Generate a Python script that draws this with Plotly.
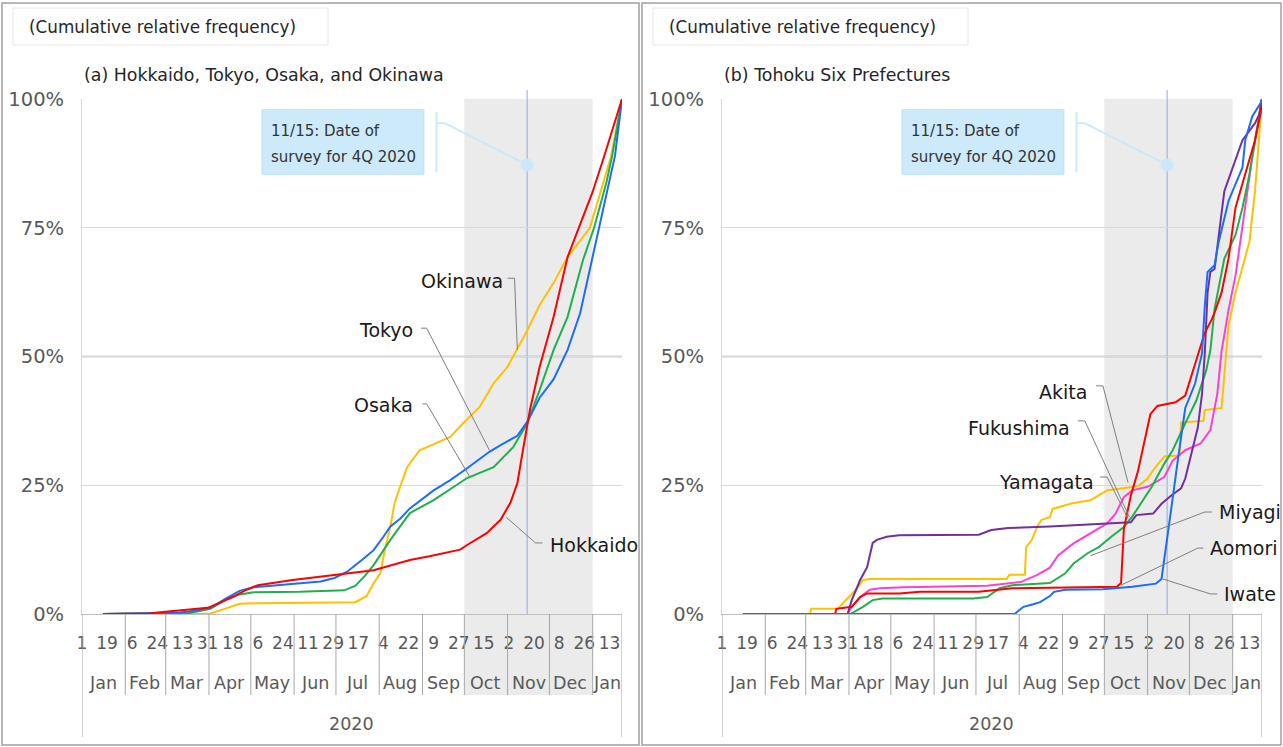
import plotly.graph_objects as go

W, H = 1283, 747
FONT = "DejaVu Sans"

# ---------------- axis labels ----------------
tick_dates = ["2020-01-01", "2020-01-19", "2020-02-06", "2020-02-24", "2020-03-13", "2020-03-31",
              "2020-04-18", "2020-05-06", "2020-05-24", "2020-06-11", "2020-06-29", "2020-07-17",
              "2020-08-04", "2020-08-22", "2020-09-09", "2020-09-27", "2020-10-15", "2020-11-02",
              "2020-11-20", "2020-12-08", "2020-12-26", "2021-01-13"]
tick_days = ["1", "19", "6", "24", "13", "31", "18", "6", "24", "11", "29", "17",
             "4", "22", "9", "27", "15", "2", "20", "8", "26", "13"]
month_starts = ["2020-01-01", "2020-02-01", "2020-03-01", "2020-04-01", "2020-05-01", "2020-06-01",
                "2020-07-01", "2020-08-01", "2020-09-01", "2020-10-01", "2020-11-01", "2020-12-01",
                "2021-01-01"]
month_mids = ["2020-01-16", "2020-02-15", "2020-03-16", "2020-04-16", "2020-05-16", "2020-06-16",
              "2020-07-16", "2020-08-16", "2020-09-16", "2020-10-16", "2020-11-16", "2020-12-16",
              "2021-01-11"]
month_names = ["Jan", "Feb", "Mar", "Apr", "May", "Jun", "Jul", "Aug", "Sep", "Oct", "Nov", "Dec", "Jan"]
axis_start, axis_end = "2020-01-01", "2021-01-22"
year_label, year_pos = "2020", "2020-07-12"
y_ticks = [0, 25, 50, 75, 100]
y_ticktext = ["0%", "25%", "50%", "75%", "100%"]

# ---------------- (a) cumulative relative frequency, % ----------------
hokkaido_dates = ["2020-01-16", "2020-02-18", "2020-02-28", "2020-03-18", "2020-03-31", "2020-04-09",
                  "2020-04-18", "2020-04-27", "2020-05-06", "2020-05-31", "2020-06-29", "2020-07-28",
                  "2020-08-23", "2020-09-06", "2020-09-28", "2020-10-03", "2020-10-17", "2020-10-27",
                  "2020-11-03", "2020-11-08", "2020-11-12", "2020-11-17", "2020-11-24", "2020-12-04",
                  "2020-12-14", "2020-12-22", "2021-01-01", "2021-01-09", "2021-01-22"]
hokkaido_vals = [0, 0.1, 0.4, 0.9, 1.2, 2.2, 3.3, 4.6, 5.6, 6.6, 7.6, 8.5, 10.5, 11.2, 12.5, 13.4, 15.7,
                 18.3, 21.6, 25.4, 31.8, 39.6, 48, 57.7, 69.3, 75, 82, 88.7, 100]

tokyo_dates = ["2020-01-16", "2020-03-11", "2020-03-18", "2020-04-02", "2020-04-13", "2020-04-23",
               "2020-05-03", "2020-05-29", "2020-06-20", "2020-06-30", "2020-07-09", "2020-07-22",
               "2020-07-28", "2020-08-04", "2020-08-09", "2020-08-16", "2020-08-23", "2020-09-09",
               "2020-09-21", "2020-10-03", "2020-10-19", "2020-10-27", "2020-11-08", "2020-11-15",
               "2020-11-24", "2020-12-04", "2020-12-14", "2020-12-23", "2020-12-30", "2021-01-06",
               "2021-01-13", "2021-01-17", "2021-01-22"]
tokyo_vals = [0, 0.3, 0.5, 1.2, 3, 4.5, 5.2, 5.8, 6.3, 7.0, 8.2, 11, 12.4, 15, 17, 18.5, 20.5, 24, 26,
              28.3, 31.5, 32.8, 34.6, 37.3, 42, 45.6, 51.3, 58.4, 67, 75, 84, 89, 100]

osaka_dates = ["2020-01-16", "2020-03-18", "2020-04-02", "2020-04-13", "2020-04-23", "2020-05-03",
               "2020-06-05", "2020-07-07", "2020-07-15", "2020-07-22", "2020-07-28", "2020-08-04",
               "2020-08-09", "2020-08-16", "2020-08-23", "2020-09-09", "2020-10-03", "2020-10-22",
               "2020-11-05", "2020-11-15", "2020-11-24", "2020-12-04", "2020-12-14", "2020-12-25",
               "2021-01-02", "2021-01-11", "2021-01-15", "2021-01-22"]
osaka_vals = [0, 0.2, 1, 2.8, 3.8, 4.2, 4.3, 4.6, 5.5, 7.5, 9.5, 12.4, 14.4, 17, 19.6, 22.1, 26.4, 28.5,
              32.4, 37, 43.5, 51.3, 57.7, 68.7, 75, 84, 89, 100]

okinawa_dates = ["2020-01-16", "2020-04-02", "2020-04-10", "2020-04-23", "2020-05-08", "2020-07-15",
                 "2020-07-23", "2020-07-28", "2020-08-02", "2020-08-05", "2020-08-09", "2020-08-12",
                 "2020-08-16", "2020-08-21", "2020-08-30", "2020-09-21", "2020-09-30", "2020-10-12",
                 "2020-10-22", "2020-11-01", "2020-11-15", "2020-11-24", "2020-12-04", "2020-12-14",
                 "2020-12-30", "2021-01-14", "2021-01-22"]
okinawa_vals = [0, 0.1, 0.8, 2.0, 2.1, 2.3, 3.5, 6, 8, 12.5, 17, 21.5, 24.7, 28.5, 31.8, 34.4, 37, 40.2,
                44.8, 48, 55, 60, 64.3, 69.3, 75, 88.7, 100]

# ---------------- (b) cumulative relative frequency, % ----------------
aomori_dates = ["2020-01-16", "2020-03-22", "2020-03-23", "2020-04-03", "2020-04-09", "2020-04-14",
                "2020-05-07", "2020-05-22", "2020-07-03", "2020-07-16", "2020-07-27", "2020-10-10",
                "2020-10-13", "2020-10-15", "2020-10-20", "2020-10-25", "2020-10-30", "2020-11-03",
                "2020-11-08", "2020-11-21", "2020-11-28", "2020-12-02", "2020-12-07", "2020-12-12",
                "2020-12-17", "2020-12-19", "2020-12-24", "2020-12-29", "2021-01-03", "2021-01-10",
                "2021-01-17", "2021-01-21", "2021-01-22"]
aomori_vals = [0, 0, 1.0, 1.4, 3.3, 4.0, 4.0, 4.3, 4.3, 4.6, 5.0, 5.3, 6, 16.5, 23, 27.6, 33.6, 38.8,
               40.4, 41.1, 42.4, 46, 50.6, 54.6, 57.2, 58.5, 62.4, 69, 78.9, 85.4, 92, 97.2, 100]

iwate_dates = ["2020-01-16", "2020-07-29", "2020-07-30", "2020-08-04", "2020-08-11", "2020-08-16",
               "2020-08-23", "2020-08-26", "2020-09-03", "2020-09-30", "2020-10-21", "2020-11-07",
               "2020-11-11", "2020-11-13", "2020-11-18", "2020-11-23", "2020-11-28", "2020-12-05",
               "2020-12-10", "2020-12-12", "2020-12-14", "2020-12-19", "2020-12-22", "2020-12-29",
               "2021-01-03", "2021-01-08", "2021-01-10", "2021-01-15", "2021-01-21", "2021-01-22"]
iwate_vals = [0, 0, 0.3, 1.4, 1.9, 2.3, 3.5, 4.3, 4.7, 4.8, 5.3, 5.9, 6.8, 11, 20.5, 30.5, 40, 44.7,
              50.6, 59.8, 66.4, 67.7, 72.3, 80.2, 83.5, 86.7, 92, 96.6, 99.2, 100]

miyagi_dates = ["2020-01-16", "2020-04-02", "2020-04-11", "2020-04-18", "2020-04-25", "2020-06-29",
                "2020-07-09", "2020-07-18", "2020-07-27", "2020-08-23", "2020-09-03", "2020-09-09",
                "2020-09-19", "2020-09-27", "2020-10-06", "2020-10-15", "2020-10-21", "2020-10-30",
                "2020-11-04", "2020-11-13", "2020-11-19", "2020-11-28", "2020-12-06", "2020-12-13",
                "2020-12-16", "2020-12-19", "2020-12-26", "2021-01-03", "2021-01-08", "2021-01-13",
                "2021-01-17", "2021-01-20", "2021-01-22"]
miyagi_vals = [0, 0, 1.4, 2.7, 3.0, 3.0, 3.3, 5.0, 5.6, 6.0, 7.9, 9.8, 11.8, 13, 15, 16.9, 18.9, 22.7,
               24.7, 29.2, 31.8, 37, 41.5, 47.3, 51.2, 59.2, 69, 73.6, 78.9, 85.4, 92, 97, 100]

akita_dates = ["2020-01-16", "2020-03-04", "2020-03-05", "2020-03-24", "2020-03-29", "2020-04-07",
               "2020-04-11", "2020-04-16", "2020-07-23", "2020-07-25", "2020-08-05", "2020-08-06",
               "2020-08-10", "2020-08-14", "2020-08-17", "2020-08-23", "2020-08-25", "2020-09-08",
               "2020-09-21", "2020-10-03", "2020-10-25", "2020-11-01", "2020-11-06", "2020-11-13",
               "2020-11-24", "2020-11-25", "2020-12-11", "2020-12-12", "2020-12-24", "2020-12-26",
               "2020-12-29", "2021-01-03", "2021-01-13", "2021-01-17", "2021-01-20", "2021-01-22"]
akita_vals = [0, 0, 1.0, 1.0, 2.5, 5, 6.6, 6.8, 6.8, 7.6, 7.6, 13, 14.4, 17, 18.3, 18.8, 20.4, 21.5,
              22.1, 24, 24.8, 26.3, 28.3, 30.6, 30.8, 37.2, 37.5, 39.6, 40, 46, 56, 62.4, 72.3, 82.1,
              92, 100]

yamagata_dates = ["2020-01-16", "2020-03-31", "2020-04-03", "2020-04-09", "2020-04-14", "2020-04-18",
                  "2020-04-21", "2020-04-28", "2020-05-07", "2020-07-03", "2020-07-12", "2020-07-24",
                  "2020-08-23", "2020-10-20", "2020-10-24", "2020-11-05", "2020-11-11", "2020-11-18",
                  "2020-11-25", "2020-11-28", "2020-12-01", "2020-12-07", "2020-12-10", "2020-12-12",
                  "2020-12-14", "2020-12-16", "2020-12-19", "2020-12-26", "2021-01-08", "2021-01-17",
                  "2021-01-20", "2021-01-22"]
yamagata_vals = [0, 0, 2.7, 6.6, 9.1, 13.8, 14.4, 15, 15.3, 15.4, 16.3, 16.7, 17, 17.8, 19.2, 19.5,
                 21.4, 23, 24.4, 26.3, 29.6, 36.2, 42.7, 50.6, 62.4, 66.4, 67, 82.1, 92, 95.3, 97, 100]

fukushima_dates = ["2020-01-16", "2020-03-31", "2020-04-03", "2020-04-09", "2020-04-16", "2020-04-23",
                   "2020-05-10", "2020-07-09", "2020-08-02", "2020-08-14", "2020-08-23", "2020-08-29",
                   "2020-09-09", "2020-09-21", "2020-10-03", "2020-10-09", "2020-10-15", "2020-10-21",
                   "2020-11-01", "2020-11-13", "2020-11-19", "2020-11-28", "2020-12-09", "2020-12-16",
                   "2020-12-21", "2020-12-24", "2020-12-29", "2021-01-03", "2021-01-10", "2021-01-15",
                   "2021-01-20", "2021-01-22"]
fukushima_vals = [0, 0, 1.4, 3.3, 4.7, 5.0, 5.2, 5.5, 6.2, 7.6, 9.0, 11.4, 13.7, 15.6, 17.6, 19.5, 22.7,
                  24, 24.7, 26.6, 29.8, 31.8, 33.1, 35.7, 42.8, 51, 59, 65.7, 78.9, 88.7, 96.6, 100]

RED, BLUE, GREEN, YELLOW, PURPLE, PINK = "#ff0000", "#1a6ef5", "#1fb04c", "#ffc000", "#7030a0", "#ff3fd2"

panel_a = [  # name, dates, values, colour
    ("Okinawa", okinawa_dates, okinawa_vals, YELLOW),
    ("Osaka", osaka_dates, osaka_vals, GREEN),
    ("Tokyo", tokyo_dates, tokyo_vals, BLUE),
    ("Hokkaido", hokkaido_dates, hokkaido_vals, RED),
]
panel_b = [
    ("Akita", akita_dates, akita_vals, YELLOW),
    ("Fukushima", fukushima_dates, fukushima_vals, PINK),
    ("Miyagi", miyagi_dates, miyagi_vals, GREEN),
    ("Yamagata", yamagata_dates, yamagata_vals, PURPLE),
    ("Aomori", aomori_dates, aomori_vals, RED),
    ("Iwate", iwate_dates, iwate_vals, BLUE),
]

# series labels: text, anchor date, value, x-anchor, leader line (dates, values)
labels_a = [
    ("Okinawa", "2020-10-30", 64.7, "right", ["2020-11-01", "2020-11-06", "2020-11-08"], [65.2, 65.2, 51.3]),
    ("Tokyo", "2020-08-27", 55.1, "right", ["2020-08-31", "2020-09-04", "2020-10-19"], [55.5, 55.5, 31.8]),
    ("Osaka", "2020-08-27", 40.6, "right", ["2020-09-01", "2020-09-04", "2020-10-05"], [40.8, 40.8, 26.6]),
    ("Hokkaido", "2020-11-30", 13.4, "left", ["2020-11-26", "2020-11-21", "2020-10-31"], [13.8, 13.8, 18.8]),
]
labels_b = [
    ("Akita", "2020-09-20", 43.1, "right", ["2020-09-25", "2020-09-30", "2020-10-18"], [44.3, 44.3, 25.5]),
    ("Fukushima", "2020-09-08", 36.1, "right", ["2020-09-12", "2020-09-17", "2020-10-19"], [37.5, 37.5, 18.8]),
    ("Yamagata", "2020-09-25", 25.6, "right", ["2020-09-28", "2020-10-03", "2020-10-18"], [26.6, 26.6, 18.5]),
    ("Miyagi", "2020-12-21", 19.8, "left", ["2020-12-17", "2020-12-12", "2020-09-21"], [19.8, 19.8, 11.3]),
    ("Aomori", "2020-12-14", 12.8, "left", ["2020-12-11", "2020-12-07", "2020-10-13"], [12.8, 12.8, 5.6]),
    ("Iwate", "2020-12-24", 3.9, "left", ["2020-12-21", "2020-12-16", "2020-11-12"], [3.9, 3.9, 6.8]),
]

survey_date = "2020-11-15"
quarter_start, quarter_end = "2020-10-01", "2021-01-01"
callout_lines = ["11/15: Date of", "survey for 4Q 2020"]

# ---------------- layout geometry (pixels) ----------------
def fx(px):
    return px / W


def fy(pix):
    return 1 - pix / H


PLOT_TOP, PLOT_BOT = 99, 614
SPAN = PLOT_BOT - PLOT_TOP


def dom(pix):  # pixel row -> fraction of the y domain
    return (PLOT_BOT - pix) / SPAN


PANELS = [
    dict(xa="x", ya="y", x0=82, x1=622, sub="(a) Hokkaido, Tokyo, Osaka, and Okinawa",
         series=panel_a, labels=labels_a, border=(2, 639)),
    dict(xa="x2", ya="y2", x0=722, x1=1262, sub="(b) Tohoku Six Prefectures",
         series=panel_b, labels=labels_b, border=(642, 1281)),
]

fig = go.Figure()
shapes, annotations = [], []
TEXT_GRAY = "#595959"

for p in PANELS:
    xa, ya = p["xa"], p["ya"]
    xd, yd = xa + " domain", ya + " domain"
    axis_id = xa[1:]

    # series lines
    for name, d, v, c in p["series"]:
        fig.add_trace(go.Scatter(x=d, y=v, mode="lines", name=name, line=dict(color=c, width=2),
                                 xaxis=xa, yaxis=ya, hoverinfo="skip", showlegend=False))

    # leader lines and labels
    for text, ld, lv, anchor, cx, cy in p["labels"]:
        fig.add_trace(go.Scatter(x=cx, y=cy, mode="lines", line=dict(color="#7f7f7f", width=1),
                                 xaxis=xa, yaxis=ya, hoverinfo="skip", showlegend=False))
        annotations.append(dict(xref=xa, yref=ya, x=ld, y=lv, text=text, showarrow=False,
                                xanchor=anchor, yanchor="middle",
                                font=dict(family=FONT, size=19, color="#1a1a1a")))

    # survey-date callout
    fig.add_trace(go.Scatter(x=[survey_date], y=[87.2], mode="markers",
                             marker=dict(size=13, color="#cce8f8"), xaxis=xa, yaxis=ya,
                             hoverinfo="skip", showlegend=False))
    shapes += [
        dict(type="rect", xref=xa, yref=ya, x0="2020-05-09", x1="2020-09-02", y0=85.4, y1=97.9,
             fillcolor="#cdeafa", line=dict(color="#bcdff3", width=1), layer="above"),
        dict(type="line", xref=xa, yref=ya, x0="2020-09-11", x1="2020-09-11", y0=85.8, y1=97.5,
             line=dict(color="#cfe8f8", width=2)),
        dict(type="line", xref=xa, yref=ya, x0="2020-09-11", x1="2020-09-17", y0=95.3, y1=95.3,
             line=dict(color="#cfe8f8", width=2)),
        dict(type="line", xref=xa, yref=ya, x0="2020-09-17", x1=survey_date, y0=95.3, y1=87.2,
             line=dict(color="#cfe8f8", width=2)),
    ]
    for line_text, yv in zip(callout_lines, (93.8, 88.7)):
        annotations.append(dict(xref=xa, yref=ya, x="2020-05-14", y=yv, text=line_text,
                                showarrow=False, xanchor="left", yanchor="middle",
                                font=dict(family=FONT, size=15, color="#333333")))

    # 4Q shading, survey-date line, 50% line
    shapes += [
        dict(type="rect", xref=xa, yref=yd, x0=quarter_start, x1=quarter_end, y0=dom(695), y1=1,
             fillcolor="#ebebeb", line=dict(width=0), layer="below"),
        dict(type="line", xref=xa, yref=yd, x0=survey_date, x1=survey_date, y0=0, y1=dom(90),
             line=dict(color="#8faadc", width=1), layer="below"),
        dict(type="line", xref=xd, yref=ya, x0=0, x1=1, y0=50, y1=50,
             line=dict(color="#a6a6a6", width=1.3), layer="below"),
    ]

    # category separators below the axis
    for m in month_starts[1:]:
        shapes.append(dict(type="line", xref=xa, yref=yd, x0=m, x1=m, y0=0, y1=dom(695),
                           line=dict(color="#a6a6a6", width=1)))
    for m in (axis_start, axis_end):
        shapes.append(dict(type="line", xref=xa, yref=yd, x0=m, x1=m, y0=0, y1=dom(737),
                           line=dict(color="#a6a6a6", width=1)))
    for m, name in zip(month_mids, month_names):
        annotations.append(dict(xref=xa, yref=yd, x=m, y=dom(683), text=name, showarrow=False,
                                xanchor="center", yanchor="middle",
                                font=dict(family=FONT, size=17.5, color=TEXT_GRAY)))
    annotations.append(dict(xref=xa, yref=yd, x=year_pos, y=dom(724), text=year_label, showarrow=False,
                            xanchor="center", yanchor="middle",
                            font=dict(family=FONT, size=17.5, color=TEXT_GRAY)))

    # panel frame, heading box, headings
    bx0, bx1 = p["border"]
    shapes += [
        dict(type="rect", xref="paper", yref="paper", x0=fx(bx0), x1=fx(bx1), y0=fy(745), y1=fy(3),
             line=dict(color="#a0a0a0", width=1.5)),
        dict(type="rect", xref="paper", yref="paper", x0=fx(bx0 + 11), x1=fx(bx0 + 326),
             y0=fy(45), y1=fy(8), line=dict(color="#e6e6e6", width=1)),
    ]
    annotations += [
        dict(xref="paper", yref="paper", x=fx(bx0 + 25), y=fy(27), text="(Cumulative relative frequency)",
             showarrow=False, xanchor="left", yanchor="middle",
             font=dict(family=FONT, size=16.8, color="#262626")),
        dict(xref="paper", yref="paper", x=fx(p["x0"]), y=fy(75), text=p["sub"],
             showarrow=False, xanchor="left", yanchor="middle",
             font=dict(family=FONT, size=17.4, color="#262626")),
    ]

    xaxis = dict(type="date", domain=[fx(p["x0"]), fx(p["x1"])], range=[axis_start, axis_end],
                 tickmode="array", tickvals=tick_dates, ticktext=tick_days, tickangle=0, ticks="",
                 showgrid=False, zeroline=False, showline=True, linecolor="#bfbfbf", linewidth=1,
                 tickfont=dict(family=FONT, size=17, color=TEXT_GRAY), ticklabelstandoff=14,
                 anchor=ya, fixedrange=True, automargin=False)
    yaxis = dict(domain=[fy(PLOT_BOT), fy(PLOT_TOP)], range=[0, 100], tickmode="array",
                 tickvals=y_ticks, ticktext=y_ticktext, ticks="", showgrid=True, gridcolor="#d9d9d9",
                 gridwidth=1, zeroline=False, showline=True, linecolor="#d9d9d9",
                 tickfont=dict(family=FONT, size=19.5, color=TEXT_GRAY), ticklabelstandoff=13,
                 anchor=xa, fixedrange=True, automargin=False)
    fig.layout["xaxis" + axis_id] = xaxis
    fig.layout["yaxis" + axis_id] = yaxis

fig.update_layout(width=W, height=H, margin=dict(l=0, r=0, t=0, b=0),
                  paper_bgcolor="white", plot_bgcolor="white",
                  shapes=shapes, annotations=annotations, showlegend=False,
                  font=dict(family=FONT))

fig.write_html("out.html")
